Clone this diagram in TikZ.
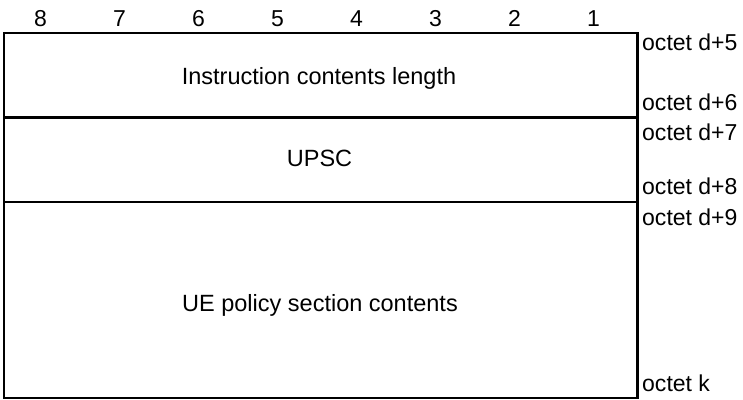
\documentclass[tikz,border=0pt]{standalone}
\usepackage{fontspec}
\setmainfont{Liberation Sans}
\begin{document}
\begin{tikzpicture}[x=1pt,y=-1pt,
  frame/.style={draw=black,line width=2.4pt},
  bitnum/.style={font=\fontsize{23}{26}\selectfont,anchor=base,inner sep=0pt},
  octlbl/.style={font=\fontsize{23}{26}\selectfont,anchor=base west,inner sep=0pt},
  field/.style={font=\fontsize{23.5}{27}\selectfont,anchor=base,inner sep=0pt}]
\useasboundingbox (0,0) rectangle (743,399);
% bit numbers
\foreach \i in {8,...,1}{
  \node[bitnum] (b\i) at ({40.5+(8-\i)*79},26.8) {\i};
}
% frame
\draw[frame] (4,33) rectangle (637.5,397.8);
\draw[frame] (4,117.5) -- (637.5,117.5);
\draw[frame] (4,202) -- (637.5,202);
% fields
\node[field] (f1) at (319,84.3) {Instruction contents length};
\node[field] (f2) at (319.5,166.7) {UPSC};
\node[field] (f3) at (320,311.7) {UE policy section contents};
% octet labels
\node[octlbl] (o5) at (642,50) {octet d+5};
\node[octlbl] (o6) at (642,110) {octet d+6};
\node[octlbl] (o7) at (642,140) {octet d+7};
\node[octlbl] (o8) at (642,194.5) {octet d+8};
\node[octlbl] (o9) at (642,225) {octet d+9};
\node[octlbl] (ok) at (642,391) {octet k};
\end{tikzpicture}
\end{document}
